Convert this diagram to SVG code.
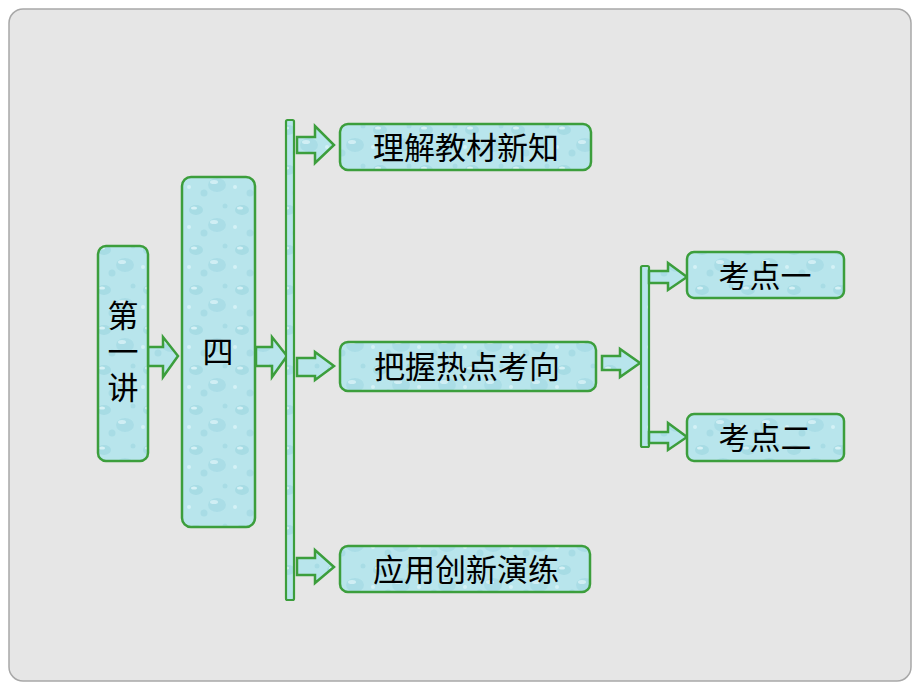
<svg xmlns="http://www.w3.org/2000/svg" width="920" height="690" viewBox="0 0 920 690">
  <defs>
    <pattern id="drops" width="46" height="40" patternUnits="userSpaceOnUse">
      <rect width="46" height="40" fill="#b8e5ec"/>
      <ellipse cx="12" cy="10" rx="7" ry="5" fill="#9bd5e0" opacity="0.6"/>
      <ellipse cx="10" cy="8" rx="3" ry="1.6" fill="#eafafd" opacity="0.7"/>
      <ellipse cx="33" cy="25" rx="9" ry="7" fill="#9ed6e1" opacity="0.55"/>
      <ellipse cx="30" cy="22" rx="4" ry="2" fill="#eafafd" opacity="0.6"/>
      <circle cx="20" cy="33" r="3.5" fill="#9bd4df" opacity="0.55"/>
      <circle cx="41" cy="6" r="2.5" fill="#9bd4df" opacity="0.55"/>
      <circle cx="5" cy="27" r="2" fill="#eafafd" opacity="0.55"/>
    </pattern>
    <style>
      .box { fill: url(#drops); stroke: #3c9e3c; stroke-width: 2.5; }
      .arrow { fill: url(#drops); stroke: #3c9e3c; stroke-width: 2.5; stroke-linejoin: miter; }
      .bar { fill: url(#drops); stroke: #3c9e3c; stroke-width: 2.2; }
      .label { font-family: "Noto Sans CJK SC", "Noto Sans CJK TC", sans-serif; font-size: 31px; font-weight: 400; fill: #000000; text-anchor: middle; }
      .vlabel { writing-mode: vertical-rl; letter-spacing: 5px; }
    </style>
  </defs>

  <rect x="0" y="0" width="920" height="690" fill="#ffffff"/>
  <rect x="9" y="9" width="902" height="672" rx="14" fill="#e6e6e6" stroke="#a8a8a8" stroke-width="1.5"/>

  <g id="connectors">
    <path class="arrow" d="M148,347 H163 V337 L178,356 L163,377 V366 H148 Z"/>
    <path class="arrow" d="M256,347 H272 V337 L287,356 L272,377 V366 H256 Z"/>
    <rect class="bar" x="286" y="120" width="8" height="480" rx="1.5"/>
    <path class="arrow" d="M297,137 H315 V126 L334,145 L315,163 V153 H297 Z"/>
    <path class="arrow" d="M297,358 H315 V352 L334,366 L315,380 V376 H297 Z"/>
    <path class="arrow" d="M297,558 H315 V550 L334,567 L315,583 V575 H297 Z"/>
    <path class="arrow" d="M602,356 H620 V349 L640,363 L620,377 V370 H602 Z"/>
    <rect class="bar" x="641" y="266" width="8" height="181" rx="1.5"/>
    <path class="arrow" d="M649,271 H668 V263 L687,277 L668,290 V283 H649 Z"/>
    <path class="arrow" d="M649,432 H668 V423 L687,437 L668,450 V443 H649 Z"/>
  </g>

  <g id="node-diyijiang">
    <rect class="box" x="98" y="246" width="50" height="215" rx="8"/>
    <text class="label vlabel" x="123" y="354">第一讲</text>
  </g>

  <g id="node-si">
    <rect class="box" x="182" y="177" width="73" height="350" rx="9"/>
    <text class="label" x="218" y="363">四</text>
  </g>

  <g id="node-lijie">
    <rect class="box" x="340" y="124" width="251" height="46" rx="8"/>
    <text class="label" x="466" y="159">理解教材新知</text>
  </g>

  <g id="node-bawo">
    <rect class="box" x="340" y="342" width="256" height="49" rx="8"/>
    <text class="label" x="467" y="378">把握热点考向</text>
  </g>

  <g id="node-yingyong">
    <rect class="box" x="340" y="546" width="250" height="46" rx="8"/>
    <text class="label" x="466" y="581">应用创新演练</text>
  </g>

  <g id="node-kaodian1">
    <rect class="box" x="687" y="252" width="157" height="46" rx="7"/>
    <text class="label" x="765" y="287">考点一</text>
  </g>

  <g id="node-kaodian2">
    <rect class="box" x="687" y="414" width="157" height="47" rx="7"/>
    <text class="label" x="765" y="449">考点二</text>
  </g>
</svg>
